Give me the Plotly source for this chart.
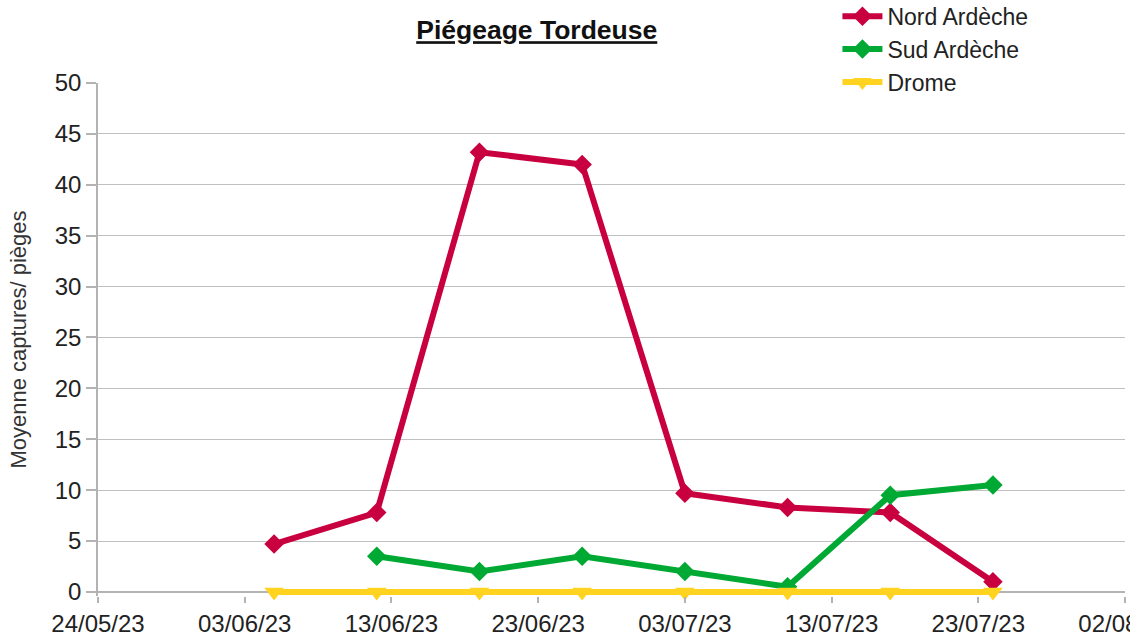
import plotly.graph_objects as go

dates = ["2023-06-05", "2023-06-12", "2023-06-19", "2023-06-26",
         "2023-07-03", "2023-07-10", "2023-07-17", "2023-07-24"]
nord = [4.7, 7.8, 43.2, 42.0, 9.7, 8.3, 7.8, 1.0]
sud = [None, 3.5, 2.0, 3.5, 2.0, 0.5, 9.5, 10.5]
drome = [0, 0, 0, 0, 0, 0, 0, 0]

tick_vals = ["2023-05-24", "2023-06-03", "2023-06-13", "2023-06-23",
             "2023-07-03", "2023-07-13", "2023-07-23", "2023-08-02"]
tick_text = ["24/05/23", "03/06/23", "13/06/23", "23/06/23",
             "03/07/23", "13/07/23", "23/07/23", "02/08/23"]

fig = go.Figure()
fig.add_trace(go.Scatter(x=dates, y=nord, name="Nord Ardèche", mode="lines+markers",
                         line=dict(color="#C9003F", width=6),
                         marker=dict(symbol="diamond", size=15, color="#C9003F"),
                         cliponaxis=False))
fig.add_trace(go.Scatter(x=dates, y=sud, name="Sud Ardèche", mode="lines+markers",
                         line=dict(color="#00A933", width=6),
                         marker=dict(symbol="diamond", size=15, color="#00A933"),
                         cliponaxis=False))
fig.add_trace(go.Scatter(x=dates, y=drome, name="Drome", mode="lines+markers",
                         line=dict(color="#FFD320", width=6),
                         marker=dict(symbol="triangle-down", size=17, color="#FFD320"),
                         cliponaxis=False))

fig.update_layout(
    width=1130, height=637,
    margin=dict(l=98, r=5, t=83, b=41, autoexpand=False),
    paper_bgcolor="white", plot_bgcolor="white",
    font=dict(family="Liberation Sans, Arial, sans-serif", color="#222"),
    title=dict(text="<u><b>Piégeage Tordeuse</b></u>", x=0.475, xanchor="center",
               y=0.953, yanchor="middle", font=dict(size=26.5, color="#111")),
    legend=dict(x=0.72, xanchor="left", y=1.172, yanchor="top",
                font=dict(size=23, color="#222"), bgcolor="rgba(0,0,0,0)",
                tracegroupgap=0, itemwidth=40),
    showlegend=True,
)
fig.update_xaxes(
    type="date", range=["2023-05-24", "2023-08-02"],
    tickvals=tick_vals, ticktext=tick_text,
    tickfont=dict(size=24, color="#222"),
    ticklabeloverflow="allow",
    showgrid=False, showline=False,
    ticks="outside", ticklen=6, tickcolor="#b3b3b3", tickwidth=1.5, zeroline=False,
    automargin=False,
)
fig.update_yaxes(
    range=[-0.4, 50], tickvals=[0, 5, 10, 15, 20, 25, 30, 35, 40, 45, 50],
    tickfont=dict(size=24, color="#222"),
    showgrid=True, gridcolor="#c0c0c0", gridwidth=1.2,
    showline=True, linecolor="#b3b3b3", linewidth=1.5,
    ticks="outside", ticklen=10, tickcolor="#b3b3b3", tickwidth=1.5,
    zeroline=True, zerolinecolor="#b3b3b3", zerolinewidth=1.5,
    automargin=False,
    title=dict(text="Moyenne captures/ pièges", font=dict(size=22, color="#333"), standoff=22),
)

fig.write_html("out.html", config={"displayModeBar": False},
               post_script="document.body.style.margin='0';document.body.style.padding='0';document.body.style.overflow='hidden';")
